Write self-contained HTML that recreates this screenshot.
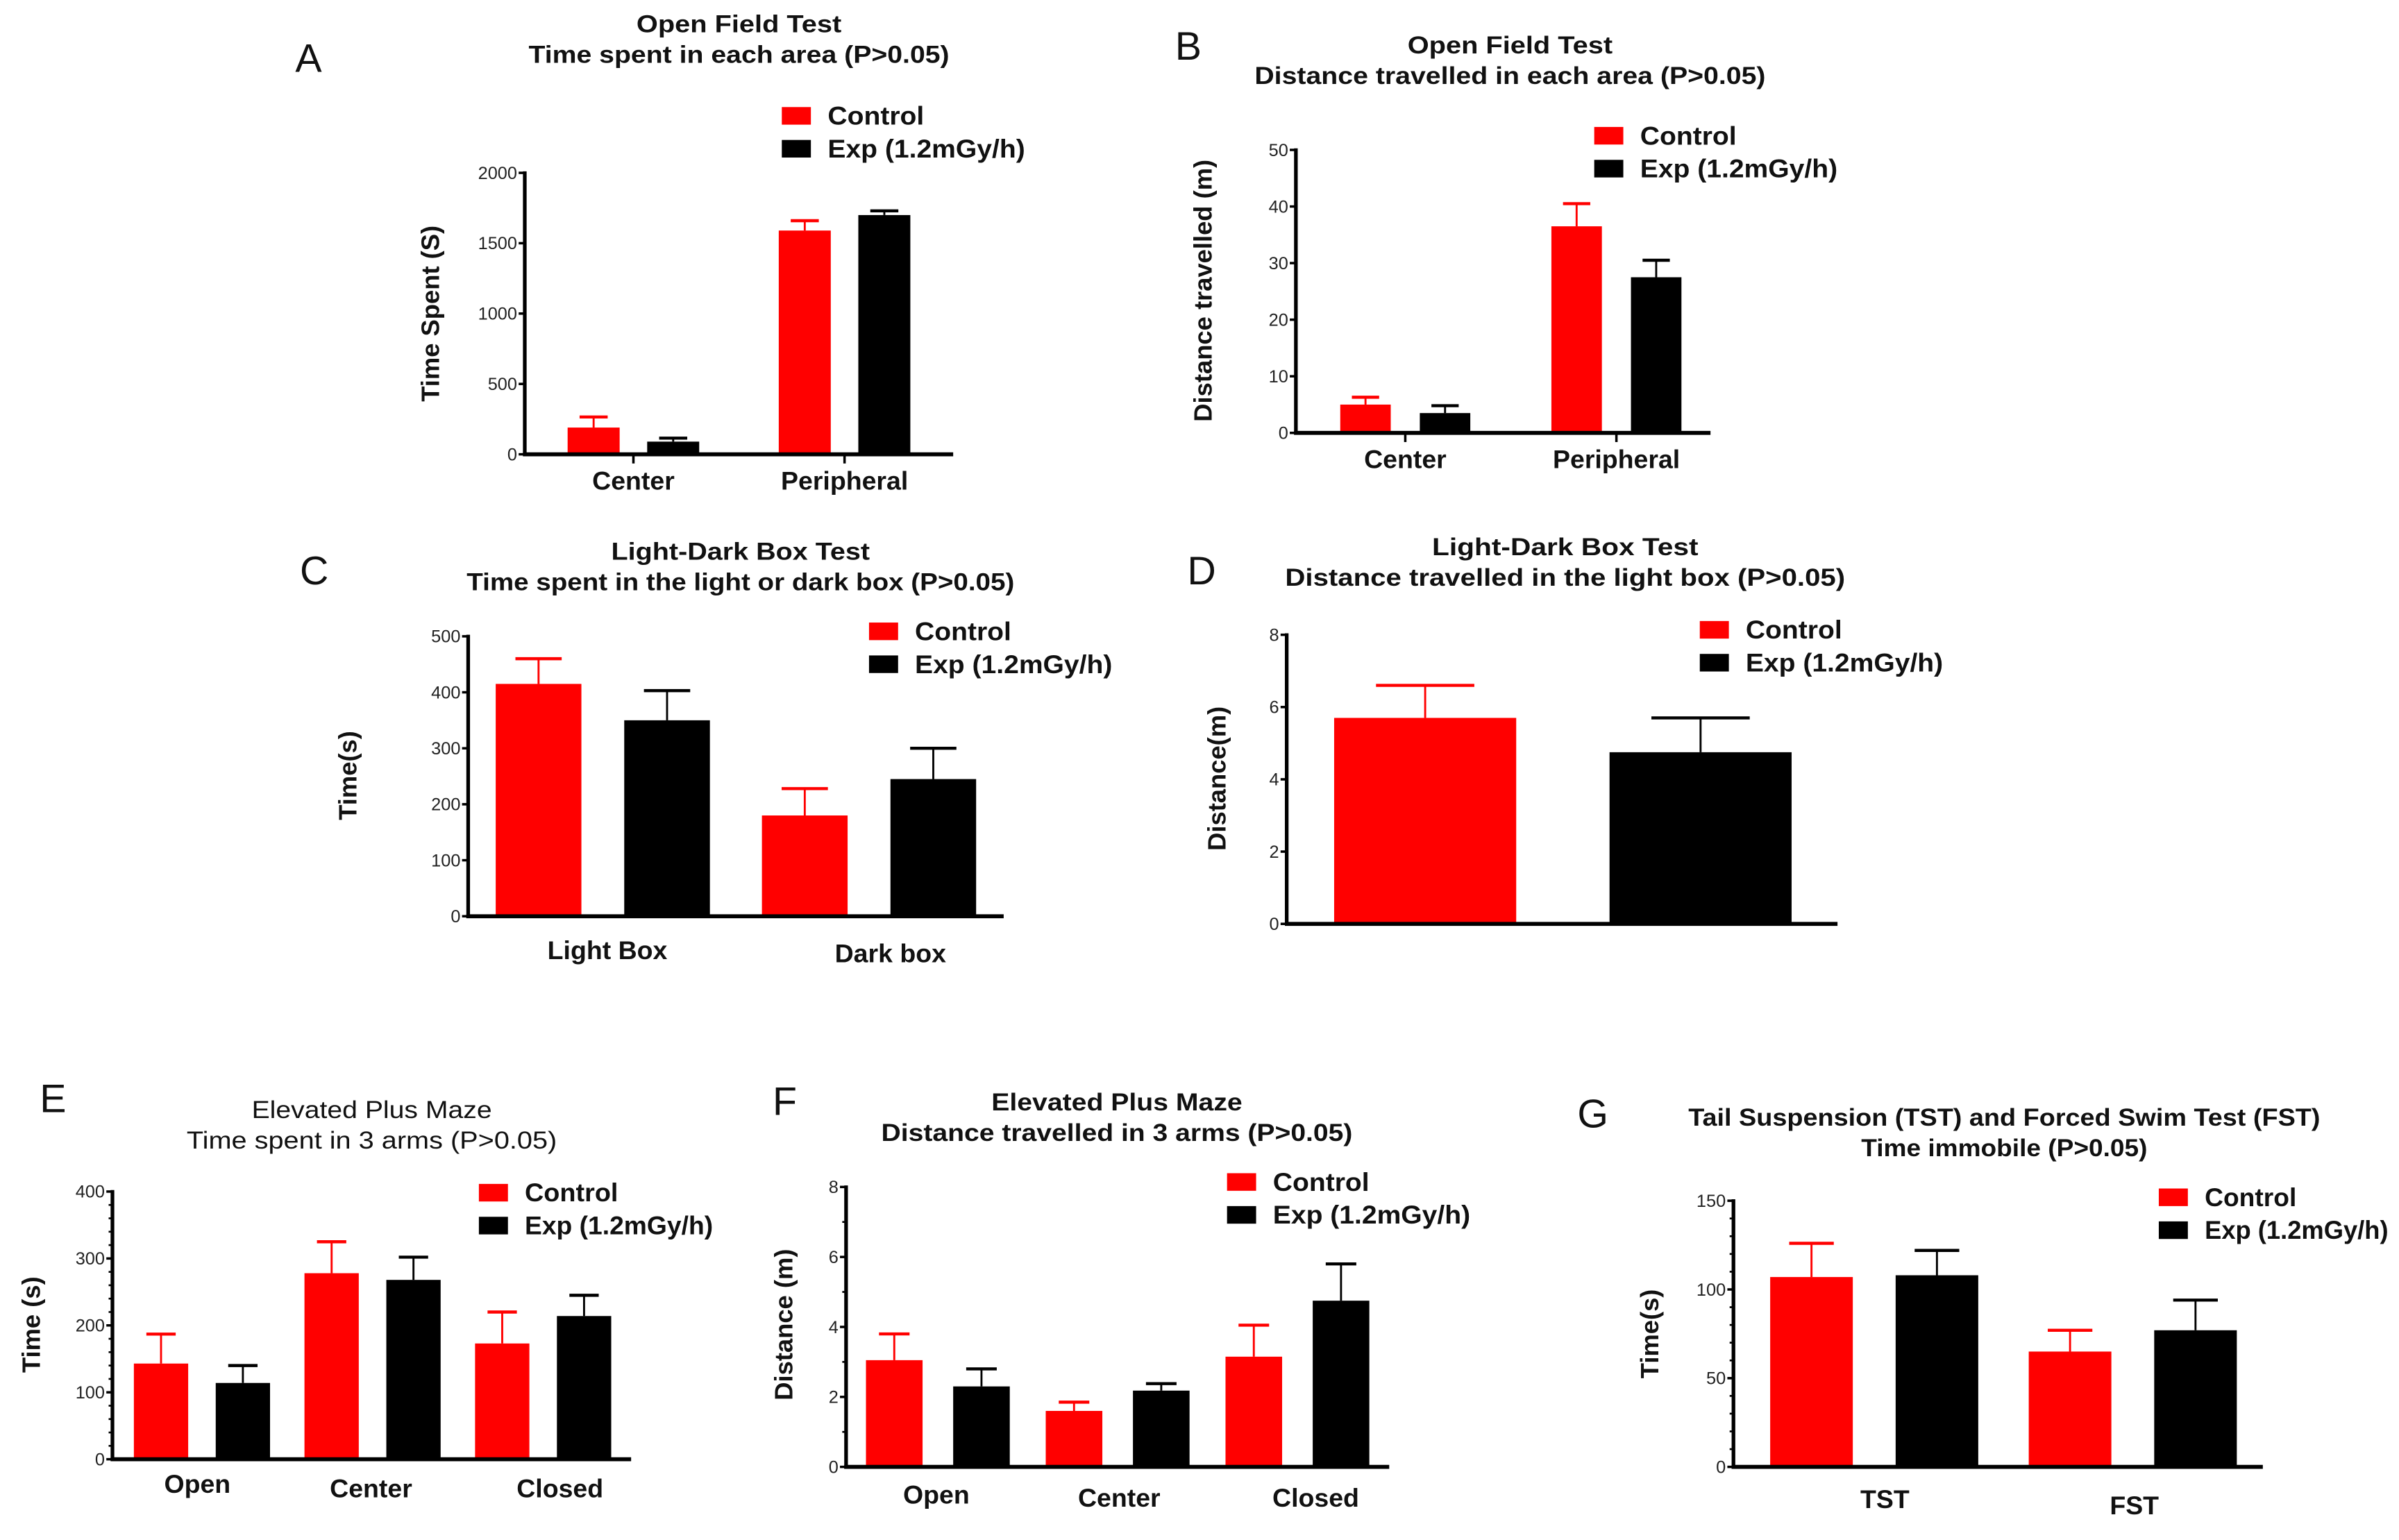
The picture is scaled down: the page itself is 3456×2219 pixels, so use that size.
<!DOCTYPE html>
<html><head><meta charset="utf-8">
<style>
html,body{margin:0;padding:0;background:#fff;}
svg{display:block;}
text{font-family:"Liberation Sans",sans-serif;}
.tt{font-weight:bold;font-size:16px;fill:#111;}
.tk{font-family:"Liberation Sans Narrow","Liberation Sans",sans-serif;font-size:11.5px;fill:#222;}
.lg{font-weight:bold;font-size:17px;fill:#111;}
.yt{font-weight:bold;font-size:16.5px;fill:#111;}
.ct{font-weight:bold;font-size:17px;fill:#111;}
.pl{font-size:26px;fill:#111;}
</style></head>
<body>
<svg id="fig" width="3456" height="2219" viewBox="0 0 1568 1006.8" preserveAspectRatio="none" xmlns="http://www.w3.org/2000/svg"></svg>
<script>
// Panel A data
const aCategories = ["Center", "Peripheral"];
const aControl = [190, 1590];
const aControlErr = [265, 1660];
const aExp = [90, 1700];
const aExpErr = [115, 1730];
const aTicks = [0, 500, 1000, 1500, 2000];
// Panel B data
const bCategories = ["Center", "Peripheral"];
const bControl = [5, 36.5];
const bControlErr = [6.3, 40.5];
const bExp = [3.5, 27.5];
const bExpErr = [4.8, 30.5];
const bTicks = [0, 10, 20, 30, 40, 50];
// Panel C data
const cCategories = ["Light Box", "Dark box"];
const cControl = [415, 180];
const cControlErr = [460, 228];
const cExp = [350, 245];
const cExpErr = [403, 300];
const cTicks = [0, 100, 200, 300, 400, 500];
// Panel D data
const dCategories = [""];
const dControl = [5.7];
const dControlErr = [6.6];
const dExp = [4.75];
const dExpErr = [5.7];
const dTicks = [0, 2, 4, 6, 8];
// Panel E data
const eCategories = ["Open", "Center", "Closed"];
const eControl = [143, 278, 173];
const eControlErr = [187, 325, 220];
const eExp = [114, 268, 214];
const eExpErr = [140, 302, 245];
const eTicks = [0, 100, 200, 300, 400];
// Panel F data
const fCategories = ["Open", "Center", "Closed"];
const fControl = [3.05, 1.6, 3.15];
const fControlErr = [3.8, 1.85, 4.05];
const fExp = [2.3, 2.18, 4.75];
const fExpErr = [2.8, 2.38, 5.8];
const fTicks = [0, 2, 4, 6, 8];
// Panel G data
const gCategories = ["TST", "FST"];
const gControl = [107, 65];
const gControlErr = [126, 77];
const gExp = [108, 77];
const gExpErr = [122, 94];
const gTicks = [0, 50, 100, 150];

const NS = "http://www.w3.org/2000/svg";
const svg = document.getElementById("fig");
function mk(tag, attrs, parent, txt) {
  const e = document.createElementNS(NS, tag);
  for (const k in attrs) e.setAttribute(k, attrs[k]);
  if (txt !== undefined) e.textContent = txt;
  (parent || svg).appendChild(e);
  return e;
}

function panel(p) {
  const g = mk("g", {});
  
  
  const yScale = v => p.bot - (v / p.max) * (p.bot - p.top);
  const xScale = (i, s) => p.left + i * p.step + s * p.off;

  const L = mk("text", {x: p.lx, y: p.ly, class: "pl"}, g, p.id);
  
  
  p.title.forEach((t, i) => {
    const attrs = {x: p.tx, y: p.ty + i * 20, class: "tt", "text-anchor": "middle", textLength: p.tw[i], lengthAdjust: "spacingAndGlyphs"};
    if (p.light) attrs.style = "font-weight:normal";
    const T = mk("text", attrs, g, t);
    
    
  });
  const series = [
    {vals: p.ctrl, errs: p.ctrlErr, color: "#ff0000", name: "control"},
    {vals: p.exp, errs: p.expErr, color: "#000000", name: "exp"}
  ];
  series.forEach((s, si) => {
    s.vals.forEach((v, i) => {
      const x = xScale(i, si);
      const yv = yScale(v), ye = yScale(s.errs[i]);
      const cx = x + p.w / 2;
      const el = mk("line", {x1: cx, x2: cx, y1: yv, y2: ye, stroke: s.color, "stroke-width": 1.3}, g);
      
      
      const cap = mk("line", {x1: cx - p.w * 0.27, x2: cx + p.w * 0.27, y1: ye, y2: ye, stroke: s.color, "stroke-width": 2}, g);
      
      
      const r = mk("rect", {x: x, y: yv, width: p.w, height: p.bot - yv, fill: s.color}, g);
      
      
    });
  });
  const ya = mk("line", {x1: p.x0, x2: p.x0, y1: p.top - 1, y2: p.bot + 1.2, stroke: "#000", "stroke-width": 2.4}, g);
  
  
  const xa = mk("line", {x1: p.x0 - 1.2, x2: p.x1, y1: p.bot, y2: p.bot, stroke: "#000", "stroke-width": 2.6}, g);
  
  
  p.ticks.forEach(t => {
    const y = yScale(t);
    const tm = mk("line", {x1: p.x0 - 4, x2: p.x0, y1: y, y2: y, stroke: "#000", "stroke-width": 1.6}, g);
    
    
    const tl = mk("text", {x: p.x0 - 5, y: y + 4, class: "tk", "text-anchor": "end"}, g, String(t));
    
    
  });
  if (p.minor) {
    const mt = p.ticks[p.ticks.length - 1] / ((p.ticks.length - 1) * p.minor);
    for (let v = 0; v <= p.max; v += mt) {
      const y = yScale(v);
      const m = mk("line", {x1: p.x0 - 2.5, x2: p.x0, y1: y, y2: y, stroke: "#000", "stroke-width": 1.2}, g);
      
      
    }
  }
  p.cats.forEach((c, i) => {
    if (!c) return;
    const cx = (xScale(i, 0) + xScale(i, 1) + p.w) / 2 + (p.catDx ? p.catDx[i] : 0);
    if (p.xticks) {
      const xt = mk("line", {x1: cx, x2: cx, y1: p.bot, y2: p.bot + 6, stroke: "#000", "stroke-width": 1.6}, g);
      
      
    }
    const ct = mk("text", {x: cx, y: p.cy + (p.catDy ? p.catDy[i] : 0), class: "ct", "text-anchor": "middle"}, g, c);
    
    
  });
  const yt = mk("text", {x: 0, y: 0, class: "yt", "text-anchor": "middle", transform: `translate(${p.ytx},${p.yty}) rotate(-90)`}, g, p.ytitle);
  
  
  const lw = p.lgw || [63, 129];
  [["#ff0000", "Control", lw[0]], ["#000000", "Exp (1.2mGy/h)", lw[1]]].forEach((l, i) => {
    const sq = mk("rect", {x: p.lgx, y: p.lgy + i * 21.5, width: 19, height: 11.5, fill: l[0]}, g);
    
    
    const lt = mk("text", {x: p.lgx + 30, y: p.lgy + 11.5 + i * 21.5, class: "lg", textLength: l[2], lengthAdjust: "spacingAndGlyphs"}, g, l[1]);
    
    
  });
}

panel({id: "A", cats: aCategories, ctrl: aControl, ctrlErr: aControlErr, exp: aExp, expErr: aExpErr, ticks: aTicks,
  max: 2000, x0: 343, x1: 623, top: 113, bot: 297, left: 371, w: 34, off: 52, step: 138, cy: 320, xticks: true,
  title: ["Open Field Test", "Time spent in each area (P>0.05)"], tw: [134, 275], tx: 483, ty: 21, lx: 193, ly: 47,
  lgx: 511, lgy: 70, ytitle: "Time Spent (S)", ytx: 287, yty: 205});
panel({id: "B", cats: bCategories, ctrl: bControl, ctrlErr: bControlErr, exp: bExp, expErr: bExpErr, ticks: bTicks,
  max: 50, x0: 847, x1: 1118, top: 98, bot: 283, left: 876, w: 33, off: 52, step: 138, cy: 306, xticks: true,
  title: ["Open Field Test", "Distance travelled in each area (P>0.05)"], tw: [134, 334], tx: 987, ty: 35, lx: 768, ly: 39,
  lgx: 1042, lgy: 83, ytitle: "Distance travelled (m)", ytx: 792, yty: 190});
panel({id: "C", cats: cCategories, ctrl: cControl, ctrlErr: cControlErr, exp: cExp, expErr: cExpErr, ticks: cTicks,
  max: 500, x0: 306, x1: 656, top: 416, bot: 599, left: 324, w: 56, off: 84, step: 174, cy: 627, catDx: [3, 14], catDy: [0, 2],
  title: ["Light-Dark Box Test", "Time spent in the light or dark box (P>0.05)"], tw: [169, 358], tx: 484, ty: 366, lx: 196, ly: 382,
  lgx: 568, lgy: 407, ytitle: "Time(s)", ytx: 233, yty: 507});
panel({id: "D", cats: dCategories, ctrl: dControl, ctrlErr: dControlErr, exp: dExp, expErr: dExpErr, ticks: dTicks,
  max: 8, x0: 841, x1: 1201, top: 415, bot: 604, left: 872, w: 119, off: 180, step: 0, cy: 630,
  title: ["Light-Dark Box Test", "Distance travelled in the light  box (P>0.05)"], tw: [174, 366], tx: 1023, ty: 363, lx: 776, ly: 382,
  lgx: 1111, lgy: 406, ytitle: "Distance(m)", ytx: 801, yty: 509});
panel({id: "E", cats: eCategories, ctrl: eControl, ctrlErr: eControlErr, exp: eExp, expErr: eExpErr, ticks: eTicks,
  max: 400, x0: 73.5, x1: 412.5, top: 779, bot: 954, left: 87.5, w: 35.5, off: 53.5, step: 111.5, cy: 979, catDx: [-3, -1, 11], catDy: [-3, 0, 0], minor: 5,
  title: ["Elevated Plus Maze", "Time spent in 3 arms  (P>0.05)"], tw: [157, 242], tx: 243, ty: 731, lx: 26, ly: 727, light: true,
  lgx: 313, lgy: 774, lgw: [61, 123], ytitle: "Time (s)", ytx: 26, yty: 866});
panel({id: "F", cats: fCategories, ctrl: fControl, ctrlErr: fControlErr, exp: fExp, expErr: fExpErr, ticks: fTicks,
  max: 8, x0: 553, x1: 908, top: 776, bot: 959, left: 566, w: 37, off: 57, step: 117.5, cy: 985, catDx: [-1, 1, 12], catDy: [-2, 0, 0], minor: 2,
  title: ["Elevated Plus Maze", "Distance travelled in 3 arms (P>0.05)"], tw: [164, 308], tx: 730, ty: 726, lx: 505, ly: 729,
  lgx: 802, lgy: 767, ytitle: "Distance (m)", ytx: 518, yty: 866});
panel({id: "G", cats: gCategories, ctrl: gControl, ctrlErr: gControlErr, exp: gExp, expErr: gExpErr, ticks: gTicks,
  max: 150, x0: 1133, x1: 1479, top: 785, bot: 959, left: 1157, w: 54, off: 82, step: 169, cy: 990, catDx: [7, 1], catDy: [-4, 0], minor: 5,
  title: ["Tail Suspension (TST) and Forced Swim Test (FST)", "Time immobile (P>0.05)"], tw: [413, 187], tx: 1310, ty: 736, lx: 1031, ly: 737,
  lgx: 1411, lgy: 777, lgw: [60, 120], ytitle: "Time(s)", ytx: 1084, yty: 872});
</script>
</body></html>
